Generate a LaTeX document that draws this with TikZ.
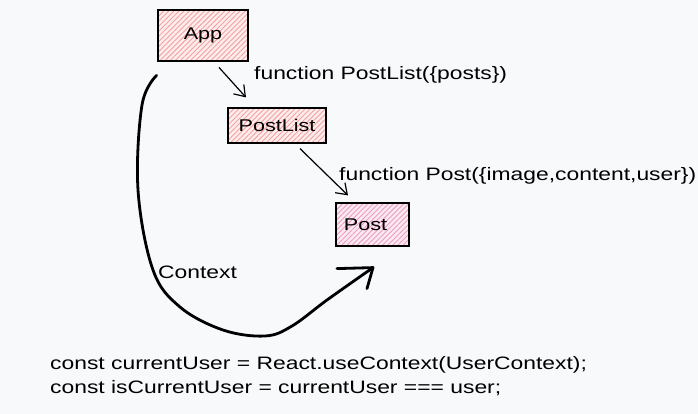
\documentclass[tikz,border=0pt]{standalone}
\usepackage{fontspec}
\setmainfont{Liberation Sans}[FakeStretch=1.27]
\usetikzlibrary{arrows.meta,patterns.meta,calc}
\definecolor{bg}{HTML}{F8F9FB}
\definecolor{hatchred}{HTML}{F5A0A0}
\definecolor{hatchpink}{HTML}{EC9CC0}
\definecolor{fillred}{HTML}{FDEDED}
\definecolor{fillpink}{HTML}{FBEAF1}
\begin{document}
\begin{tikzpicture}[x=1pt,y=-1pt,
  box/.style={draw=black, line width=1.2pt, inner sep=0pt, font=\fontsize{17}{20}\selectfont},
  hatchR/.style={preaction={fill=fillred}, pattern={Lines[angle=45,distance=3.6pt,line width=0.9pt]}, pattern color=hatchred},
  hatchP/.style={preaction={fill=fillpink}, pattern={Lines[angle=45,distance=3.6pt,line width=0.9pt]}, pattern color=hatchpink},
  lbl/.style={inner sep=0pt, anchor=west, font=\fontsize{18}{22}\selectfont},
  arr/.style={line width=1.2pt, -{Straight Barb[length=10pt,width=14pt,line width=1.2pt]}},
  ctxline/.style={line width=2.8pt, line cap=round, line join=round}
]
\fill[bg] (0,0) rectangle (698,414);
\useasboundingbox (0,0) rectangle (698,414);

\node[box, hatchR, minimum width=90pt, minimum height=51pt] (app) at (203,35.5) {App};
\node[box, hatchR, minimum width=98pt, minimum height=35pt] (postlist) at (277,125.5) {PostList};
\node[box, hatchP, minimum width=73pt, minimum height=43pt] (post) at (372.5,224.5) {\hspace*{-14pt}Post};

\draw[arr] ($(app.south)+(16,6)$) -- ($(postlist.north)+(-31,-10)$);
\draw[arr] ($(postlist.south)+(23,5)$) -- ($(post.north)+(-24.5,-7)$);

\coordinate (cstart) at ($(app.south west)+(-1,14)$);
\coordinate (ctip) at ($(post.south)+(0.5,21)$);
\draw[ctxline] plot[smooth, tension=0.6] coordinates {(cstart) (142,105) (138,190) (153,270) (180,307) (223,330) (265,336) (292,326) (327,300) (ctip)};
\draw[ctxline] ($(ctip)+(-36,1)$) -- (ctip) -- ($(ctip)+(-6,21)$);

\node[lbl] (l1) at (254,75) {function PostList(\{posts\})};
\node[lbl] (l2) at (339,176) {function Post(\{image,content,user\})};
\node[lbl] (ctx) at (158,272) {Context};
\node[lbl] (c1) at (50,365) {const currentUser = React.useContext(UserContext);};
\node[lbl] (c2) at (50,388) {const isCurrentUser = currentUser === user;};
\end{tikzpicture}
\end{document}
